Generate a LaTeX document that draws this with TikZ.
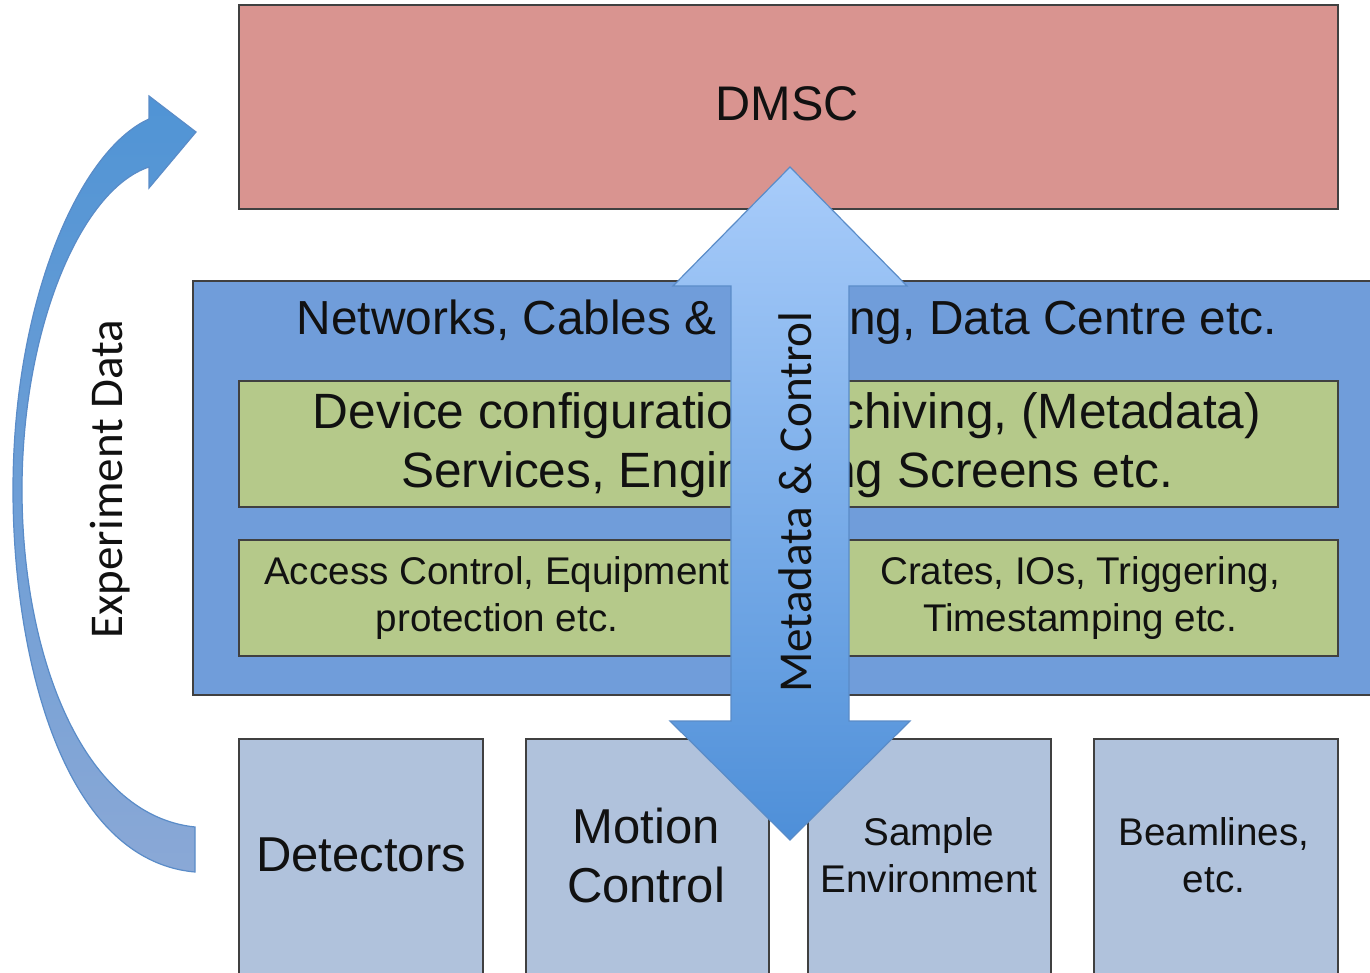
\documentclass[tikz,border=0pt]{standalone}
\usepackage{fontspec}
\setmainfont{Liberation Sans}
\newfontfamily\calibri{Carlito}
\usepackage{tikz}
\usetikzlibrary{positioning,calc,shapes}

\definecolor{dmscred}{RGB}{217,148,144}
\definecolor{netblue}{RGB}{112,157,218}
\definecolor{servgreen}{RGB}{181,201,138}
\definecolor{devblue}{RGB}{176,194,220}
\definecolor{edgegray}{RGB}{64,64,64}
\definecolor{arrowtop}{RGB}{168,204,250}
\definecolor{arrowbot}{RGB}{78,143,216}
\definecolor{curvetop}{RGB}{80,148,213}
\definecolor{curvebot}{RGB}{138,168,214}
\definecolor{arrowedge}{RGB}{90,140,200}
\definecolor{txt}{RGB}{17,17,17}

\newcommand{\bigfont}{\fontsize{24.5}{29.5}\selectfont}
\newcommand{\smallfont}{\fontsize{19.3}{23.5}\selectfont}

\tikzset{
  box/.style={draw=edgegray, line width=1pt, rectangle, inner sep=0pt},
  devbox/.style={box, fill=devblue, minimum height=126pt},
  greenbox/.style={box, fill=servgreen},
  label/.style={text=txt, align=center, inner sep=0pt}
}

\begin{document}
\begin{tikzpicture}[x=0.5pt, y=-0.5pt]
        \useasboundingbox (0,0) rectangle (1370,973);

        % DMSC (top)
        \node[box, fill=dmscred, minimum width=549.5pt, minimum height=102pt] (dmsc) at (788.5,107) {};
        \node[label, font=\fontsize{24.3}{29}\selectfont] (dmsctext) at (787,104) {DMSC};

        % networks layer
        \node[box, fill=netblue, minimum width=591pt, minimum height=207pt] (net) at (784,488) {};
        \node[label, font=\fontsize{23.9}{29}\selectfont] (nettext) at (787,322) {Networks, Cables \& Racking, Data Centre etc.};

        % services
        \node[greenbox, minimum width=549.5pt, minimum height=63pt] (serv) at (788.5,444) {};
        \node[label, font=\fontsize{24.8}{29.5}\selectfont] (servtext) at (787,445) {Device configuration, Archiving, (Metadata)\\Services, Engineering Screens etc.};

        % access / timing
        \node[greenbox, minimum width=258pt, minimum height=58pt] (access) at (497,598) {};
        \node[label, font=\smallfont] (accesstext) at (497,598) {Access Control, Equipment\\protection etc.};
        \node[greenbox, minimum width=258pt, minimum height=58pt] (crates) at (1080,598) {};
        \node[label, font=\smallfont] (cratestext) at (1080,598) {Crates, IOs, Triggering,\\Timestamping etc.};

        % devices (bottom)
        \node[devbox, minimum width=122pt] (det) at (361,865) {};
        \node[label, font=\bigfont] (dettext) at (361,855) {Detectors};
        \node[devbox, minimum width=121.5pt] (mot) at (647.5,865) {};
        \node[label, font=\bigfont] (mottext) at (646,855) {Motion\\Control};
        \node[devbox, minimum width=121.5pt] (sam) at (929.5,865) {};
        \node[label, font=\smallfont] (samtext) at (929,855) {Sample\\Environment};
        \node[devbox, minimum width=122pt] (beam) at (1216,865) {};
        \node[label, font=\smallfont] (beamtext) at (1214,855) {Beamlines,\\etc.};

        % metadata & control (double arrow)
        \shadedraw[top color=arrowtop, bottom color=arrowbot, draw=arrowedge, line width=0.6pt]
          (790,167) -- (907,286) -- (849,286) -- (849,721) -- (910,721) -- (790,840)
          -- (670,721) -- (731,721) -- (731,286) -- (673,286) -- cycle;
        \node[label, rotate=90, font=\calibri\fontsize{23.6}{28}\selectfont] (mctext) at (795,502) {Metadata \& Control};

        % experiment data (curved arrow)
        \shadedraw[top color=curvetop, bottom color=curvebot, draw=arrowedge, line width=0.6pt]
          (195,872) .. controls (60,860) and (13,650) .. (13,490)
          .. controls (13,300) and (80,150) .. (149,119)
          -- (149,96) -- (196,132) -- (149,188) -- (149,167)
          .. controls (80,190) and (22,330) .. (22,490)
          .. controls (22,650) and (80,815) .. (195,827) -- cycle;
        \node[label, rotate=90, font=\calibri\fontsize{23.5}{28}\selectfont] (exptext) at (110,479) {Experiment Data};

\end{tikzpicture}
\end{document}
